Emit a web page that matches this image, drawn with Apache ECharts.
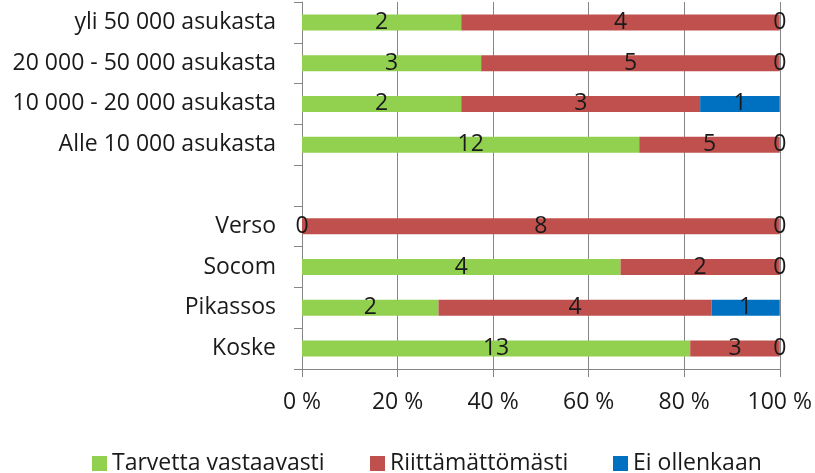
<!DOCTYPE html>
<html>
<head>
<meta charset="utf-8">
<script src="https://cdn.jsdelivr.net/npm/echarts@6/dist/echarts.min.js"></script>
<style>
  html, body { margin: 0; padding: 0; background: #fff; }
  #chart { width: 815px; height: 473px; }
</style>
</head>
<body>
<div id="chart"></div>
<script>
// rivit ylhäältä alas, tyhjä rivi erottaa ryhmät
const categories = [
  "yli 50 000 asukasta",
  "20 000 - 50 000 asukasta",
  "10 000 - 20 000 asukasta",
  "Alle 10 000 asukasta",
  "",
  "Verso",
  "Socom",
  "Pikassos",
  "Koske",
];
const seriesNames = ["Tarvetta vastaavasti", "Riittämättömästi", "Ei ollenkaan"];
const tarvetta = [2, 3, 2, 12, null, 0, 4, 2, 13];
const riittamaton = [4, 5, 3, 5, null, 8, 2, 4, 3];
const eiOllenkaan = [0, 0, 1, 0, null, 0, 0, 1, 0];
const xTicks = [0, 20, 40, 60, 80, 100];
const colors = ["#92D050", "#C0504D", "#0070C0"];

const FONT = "Open Sans";
const TEXT = "#1a1a1a";
const AXIS = "#868686";
const raw = [tarvetta, riittamaton, eiOllenkaan];

// osuudet prosentteina riveittäin
function share(values, i) {
  const total = tarvetta[i] + riittamaton[i] + eiOllenkaan[i];
  if (values[i] === null) return "-";
  return (values[i] / total) * 100;
}

const chart = echarts.init(document.getElementById("chart"));

const series = raw.map((values, s) => ({
  name: seriesNames[s],
  type: "bar",
  stack: "total",
  barWidth: 16,
  itemStyle: { color: colors[s] },
  label: {
    show: true,
    position: "inside",
    color: TEXT,
    fontFamily: FONT,
    fontSize: 23,
    formatter: (p) => String(values[p.dataIndex]),
  },
  data: categories.map((c, i) => share(values, i)),
}));

// legenda: kolme erillistä kohtaa, jotta välit osuvat kohdalleen
const legendLeft = [87, 365, 608];
const legends = seriesNames.map((name, i) => ({
  left: legendLeft[i],
  top: 447,
  itemWidth: 15,
  itemHeight: 15,
  itemGap: 0,
  icon: "rect",
  textStyle: { color: TEXT, fontFamily: FONT, fontSize: 23 },
  data: [name],
}));

chart.setOption({
  animation: false,
  textStyle: { fontFamily: FONT },
  grid: { left: 302, right: 33, top: 2, bottom: 104, containLabel: false },
  xAxis: {
    type: "value",
    min: 0,
    max: 100,
    interval: 20,
    axisLine: { show: true, lineStyle: { color: AXIS } },
    axisTick: { show: true, length: 8, lineStyle: { color: AXIS } },
    splitLine: { show: true, lineStyle: { color: AXIS, width: 1 } },
    axisLabel: {
      color: TEXT,
      fontFamily: FONT,
      fontSize: 23,
      margin: 22,
      formatter: (v) => (xTicks.includes(v) ? v + " %" : ""),
    },
  },
  yAxis: {
    type: "category",
    inverse: true,
    data: categories,
    axisLine: { show: true, lineStyle: { color: AXIS } },
    axisTick: { show: true, length: 8, lineStyle: { color: AXIS } },
    axisLabel: { color: TEXT, fontFamily: FONT, fontSize: 23, margin: 26 },
  },
  legend: legends,
  series: series,
});
</script>
</body>
</html>
